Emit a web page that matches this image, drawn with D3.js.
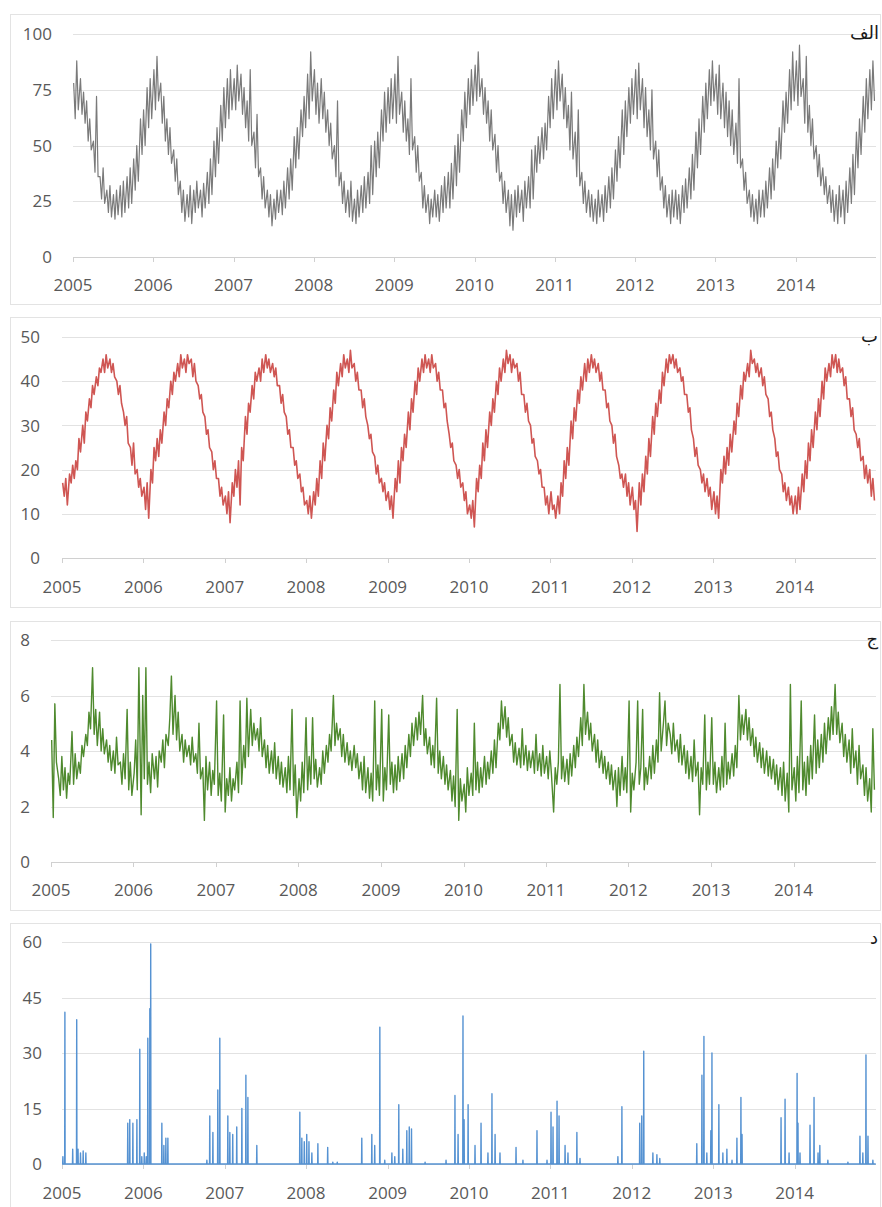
<!DOCTYPE html>
<html><head><meta charset="utf-8">
<script src="https://cdn.jsdelivr.net/npm/d3@7"></script>
<style>body{margin:0;background:#fff}svg{display:block}</style>
</head><body>
<svg id="chart" width="882" height="1207"></svg>
<script>
// ---------- DATA ----------
const yearTicks = [2005,2006,2007,2008,2009,2010,2011,2012,2013,2014];
const humidityTicks = [0,25,50,75,100];
const temperatureTicks = [0,10,20,30,40,50];
const windTicks = [0,2,4,6,8];
const rainTicks = [0,15,30,45,60];
const panelTitles = ["الف","ب","ج","د"];

// weekly samples (4 per month: days 4, 11, 18, 25), one row per year
const humidity = [
78,62,88,66, 80,64,74,60, 70,52,62,48, 52,38,72,36, 36,26,40,24, 30,20,32,18, 28,17,30,19, 32,18,34,20, 36,22,40,24, 44,30,50,34, 62,46,66,50, 76,58,80,62,
84,66,90,70, 78,60,72,52, 62,46,58,42, 48,34,44,28, 34,20,30,16, 28,18,32,15, 30,20,34,22, 30,18,33,22, 38,24,44,28, 52,36,58,42, 68,52,76,58, 80,62,84,66,
80,66,86,70, 82,64,76,58, 70,52,84,50, 56,40,64,36, 40,26,36,22, 30,18,28,14, 26,17,30,20, 30,19,34,22, 40,26,44,30, 54,40,58,44, 66,54,72,58, 82,62,92,70,
84,64,78,60, 80,62,74,56, 66,50,60,44, 50,36,70,32, 38,24,34,20, 30,18,34,16, 26,15,30,18, 32,20,36,22, 38,24,50,28, 52,36,56,40, 66,52,74,56, 76,60,80,62,
82,60,90,64, 74,56,70,52, 62,46,80,48, 54,38,50,34, 38,22,32,20, 28,15,26,18, 30,18,28,16, 32,20,36,22, 38,22,42,26, 50,32,55,38, 66,52,74,58, 80,64,84,68,
86,70,92,72, 80,64,76,60, 70,52,66,48, 55,38,50,34, 38,24,34,20, 30,14,28,12, 30,18,32,20, 30,16,34,22, 36,22,48,26, 50,38,54,42, 58,44,60,48, 72,58,80,62,
84,66,88,70, 82,62,76,58, 68,48,74,44, 56,36,66,32, 38,24,34,20, 30,18,28,16, 26,15,30,18, 28,16,32,20, 36,22,40,26, 48,34,54,40, 66,46,70,54, 76,60,80,64,
84,62,87,66, 80,58,76,54, 66,48,75,44, 52,36,48,30, 36,22,32,18, 28,15,30,18, 30,17,28,15, 32,20,35,22, 40,26,46,30, 56,40,62,46, 72,56,78,62, 84,68,88,70,
82,64,86,62, 78,58,74,54, 70,50,66,46, 60,42,80,40, 44,30,38,24, 30,18,28,16, 26,15,30,18, 30,18,34,22, 40,26,44,30, 52,40,58,44, 70,56,74,60, 84,66,92,70,
88,68,95,72, 80,60,90,56, 68,50,62,44, 50,36,46,32, 40,28,36,24, 32,20,30,16, 28,15,32,18, 30,15,34,20, 40,24,46,28, 56,40,62,46, 72,56,80,62, 84,66,88,70
];

const temperature = [
17,14,18,12, 19,17,21,18, 22,20,27,24, 30,26,33,31, 36,34,39,37, 41,39,43,42, 45,42,46,43, 45,42,44,41, 40,37,39,35, 33,30,32,26, 25,21,26,19, 20,16,18,14,
16,11,17,9, 20,17,25,22, 27,23,29,26, 33,30,36,34, 40,37,42,40, 44,41,46,43, 45,42,46,44, 45,41,44,40, 39,36,37,33, 32,28,29,25, 24,20,22,18, 18,14,16,12,
14,10,15,8, 17,14,20,16, 22,12,25,22, 32,28,35,33, 39,36,42,40, 43,40,45,42, 46,43,45,42, 44,41,43,39, 39,35,37,33, 32,28,29,25, 25,21,22,18, 19,15,16,12,
13,10,14,9, 15,12,18,14, 22,18,26,22, 30,27,34,31, 38,35,42,39, 44,41,46,43, 45,42,47,43, 44,40,42,38, 38,34,36,32, 30,27,28,24, 23,19,21,17, 18,15,17,13,
15,11,14,9, 18,15,22,17, 25,22,28,25, 33,29,36,33, 40,37,43,40, 45,42,46,43, 45,42,46,43, 44,40,42,38, 38,34,35,31, 28,25,26,22, 21,18,20,16, 17,13,15,10,
12,9,13,7, 18,15,21,18, 26,22,29,25, 33,30,36,33, 40,37,43,40, 45,42,47,44, 46,42,45,43, 44,40,42,37, 37,33,35,31, 30,26,27,23, 22,19,20,16, 16,12,14,10,
15,11,12,9, 14,10,17,14, 22,18,25,21, 31,27,34,31, 38,35,41,38, 44,40,45,42, 46,43,45,42, 44,40,42,38, 38,34,35,31, 30,26,28,23, 21,18,19,16, 19,14,17,12,
16,11,13,6, 17,12,19,15, 23,19,27,23, 32,28,35,32, 38,35,42,39, 45,42,46,44, 46,43,45,42, 43,40,41,37, 37,33,34,29, 27,23,25,21, 20,17,19,15, 18,14,16,11,
15,10,14,9, 20,17,23,19, 25,21,28,24, 31,28,35,32, 39,36,42,40, 44,41,47,44, 45,42,44,41, 43,39,41,37, 36,32,33,29, 27,23,24,20, 19,15,17,13, 16,12,14,10,
14,10,16,11, 19,15,22,18, 26,22,29,25, 33,29,36,32, 40,36,43,40, 44,41,46,43, 46,42,45,42, 43,39,41,36, 36,32,34,29, 28,25,27,22, 23,18,21,17, 20,14,18,13
];

const wind = [
4.4,1.6,5.7,3.6, 3.0,2.4,3.8,2.6, 3.4,2.3,3.2,2.8, 4.7,2.8,3.9,3.0, 3.6,3.2,4.2,3.8, 4.6,4.2,5.4,4.8, 7.0,4.6,5.5,4.2, 5.4,4.0,4.8,3.9, 4.4,3.6,4.2,3.3, 4.0,3.2,4.5,3.5, 3.6,2.8,3.9,3.0, 5.5,2.6,3.6,2.4,
3.2,4.4,2.6,7.0, 1.7,6.0,3.0,7.0, 2.8,3.6,2.5,3.9, 3.0,3.8,2.7,4.0, 3.6,4.4,3.4,4.6, 4.2,5.2,6.7,4.6, 6.0,4.4,5.4,4.0, 4.6,3.6,4.4,3.8, 4.2,3.5,4.5,3.6, 3.9,3.2,5.0,3.0, 3.4,1.5,3.8,2.6, 3.6,2.4,3.3,2.8,
5.8,2.4,3.2,2.2, 5.3,1.8,3.0,2.4, 3.4,2.2,3.0,2.6, 3.6,2.5,5.8,2.8, 4.2,3.4,5.9,3.8, 5.5,4.2,5.0,4.4, 4.8,4.0,5.2,3.8, 4.4,3.4,4.2,3.2, 4.0,3.2,4.3,3.0, 3.8,2.8,3.6,2.7, 3.4,2.5,3.8,2.6, 5.5,2.4,3.5,1.6,
3.0,2.2,3.6,2.5, 5.2,2.6,3.8,2.8, 5.2,3.0,3.7,2.7, 3.4,2.8,4.0,3.2, 4.2,3.6,4.6,4.0, 6.0,4.2,5.0,4.4, 4.8,3.8,4.6,3.6, 4.3,3.5,4.0,3.3, 4.2,3.4,3.9,3.0, 3.6,2.6,3.8,2.5, 3.4,2.3,3.2,2.2, 5.8,2.6,3.5,2.4,
5.5,2.2,3.4,2.6, 5.3,2.8,3.6,2.5, 3.5,2.6,3.8,2.9, 3.9,3.0,4.2,3.4, 4.6,3.8,5.0,4.2, 5.2,4.4,5.4,4.6, 6.0,4.2,4.8,3.9, 4.5,3.5,4.2,3.4, 5.9,3.2,4.0,3.0, 3.8,2.8,3.5,2.6, 3.3,2.2,3.1,2.0, 5.5,1.5,3.0,2.2,
2.8,1.8,3.4,2.4, 3.2,2.4,5.0,2.6, 3.6,2.5,3.4,2.7, 3.8,2.8,3.6,3.0, 4.0,3.2,4.4,3.4, 5.0,4.4,5.8,4.8, 5.6,4.5,5.2,4.2, 4.6,3.6,4.3,3.5, 4.1,3.4,4.8,3.5, 4.2,3.3,4.0,3.4, 4.0,3.2,4.6,3.3, 3.9,3.1,4.2,3.2,
3.8,3.0,4.0,3.2, 1.8,3.4,2.8,3.6, 6.4,3.0,3.8,2.9, 3.7,2.8,3.9,3.1, 4.2,3.4,4.5,3.8, 5.2,4.2,6.4,4.6, 5.4,4.4,5.0,4.0, 4.6,3.6,4.4,3.4, 4.0,3.2,3.8,3.0, 3.6,2.8,3.5,2.6, 3.3,2.0,3.4,2.4, 3.8,2.6,3.4,2.5,
5.8,1.8,3.2,2.6, 3.6,5.8,2.8,3.4, 5.5,2.6,3.4,2.8, 3.8,3.0,4.2,3.2, 4.4,3.6,6.1,4.0, 5.0,5.8,4.2,5.0, 4.6,3.9,5.0,4.0, 4.4,3.6,4.6,3.5, 4.2,3.2,4.0,3.0, 3.8,2.9,4.4,3.1, 3.6,1.7,3.4,2.8, 5.3,2.6,3.6,2.8,
5.2,2.8,3.6,2.5, 3.4,2.6,3.8,2.7, 5.0,2.8,3.6,3.0, 3.9,3.1,4.2,3.4, 6.0,4.4,5.3,4.6, 5.5,4.4,5.2,4.2, 4.8,3.8,4.5,3.6, 4.3,3.4,4.1,3.2, 4.0,3.1,3.8,3.0, 3.7,2.8,3.5,2.6, 3.4,2.4,3.6,2.2, 3.2,1.8,6.4,2.6,
3.4,2.2,3.8,2.5, 5.8,2.6,3.6,2.4, 3.8,2.8,4.2,3.0, 5.3,3.2,4.4,3.4, 4.6,3.6,5.0,3.9, 5.2,4.4,5.6,4.6, 6.4,4.6,5.4,4.3, 5.0,3.8,4.6,3.6, 4.4,3.2,4.8,3.4, 4.0,2.8,4.2,3.0, 3.5,2.4,3.4,2.2, 3.0,1.8,4.8,2.6
];

// rainy days (all other days are 0)
const rainEvents = [
["2005-01-05",2],["2005-01-14",41],["2005-02-18",4],["2005-03-08",39],["2005-03-14",4],["2005-03-25",3],["2005-04-06",3.5],["2005-04-18",3],
["2005-10-23",11],["2005-11-01",12],["2005-11-15",11],["2005-12-03",12],["2005-12-16",31],["2005-12-25",2],["2006-01-05",3],["2006-01-14",2],
["2006-01-21",34],["2006-01-30",42],["2006-02-03",59.5],["2006-03-25",11],["2006-04-03",5],["2006-04-12",7],["2006-04-21",7],
["2006-10-13",1],["2006-10-26",13],["2006-11-09",8.5],["2006-12-01",20],["2006-12-10",34],["2007-01-15",13],["2007-01-24",8.5],["2007-02-06",8],
["2007-02-24",10],["2007-03-19",15],["2007-04-06",24],["2007-04-15",18],["2007-05-25",5],
["2007-12-04",14],["2007-12-13",7],["2007-12-24",6],["2008-01-04",8],["2008-01-14",6],["2008-01-27",3],["2008-02-23",5.5],["2008-04-07",4.5],
["2008-04-30",0.5],["2008-05-20",0.5],["2008-09-07",7],["2008-10-22",8],["2008-11-04",5],["2008-11-27",37],["2008-12-19",1],
["2009-01-20",3],["2009-02-02",2],["2009-02-20",16],["2009-03-10",4],["2009-03-28",9],["2009-04-08",10],["2009-04-18",9.5],["2009-06-18",0.5],
["2009-09-20",1],["2009-10-30",18.5],["2009-11-13",8],["2009-12-05",40],["2009-12-10",12],["2009-12-28",16],["2010-01-28",5],["2010-02-24",11],
["2010-03-27",3],["2010-04-14",19],["2010-04-28",8],["2010-05-20",3],["2010-07-31",4.5],["2010-08-31",1],["2010-11-02",9],["2010-12-17",1],
["2011-01-04",14],["2011-01-13",10],["2011-01-31",17],["2011-02-09",13],["2011-03-08",5],["2011-03-21",3],["2011-04-30",8.5],["2011-05-14",1.5],
["2011-10-31",2],["2011-11-18",15.5],["2012-02-06",11],["2012-02-15",13],["2012-02-24",30.5],["2012-04-05",3],["2012-04-23",2.5],["2012-05-06",1.5],
["2012-10-19",5.5],["2012-11-11",24],["2012-11-20",34.5],["2012-12-03",3],["2012-12-21",9],["2012-12-26",30],["2013-01-26",16],["2013-02-13",3],
["2013-03-03",4],["2013-03-26",1],["2013-04-17",7],["2013-05-05",18],["2013-05-10",8],
["2013-11-01",12.5],["2013-11-19",17.5],["2013-12-07",3],["2014-01-12",24.5],["2014-01-16",11],["2014-01-25",3],["2014-03-11",10.5],["2014-03-29",18],
["2014-04-16",3],["2014-04-24",5],["2014-05-30",1],["2014-08-28",0.5],["2014-10-21",7.5],["2014-11-03",3],["2014-11-17",29.5],["2014-11-26",7.5],["2014-12-18",1]
];

// ---------- BUILD ----------
const weekly = arr => arr.map((v,i)=>({date:new Date(2005+Math.floor(i/48), Math.floor(i/4)%12, 4+7*(i%4)), v}));
const parse = d3.timeParse("%Y-%m-%d");
const rainMap = new Map(rainEvents.map(([d,v])=>[+parse(d), v]));
const rainDaily = d3.timeDay.range(new Date(2005,0,1), new Date(2015,0,1)).map(d=>({date:d, v: rainMap.get(+d) || 0}));

const panels = [
  {data:weekly(humidity), ticks:humidityTicks, max:100, color:"#7a7a7a", width:1.2,
   top:14, bottom:304, x0:73, y0:257, y1:34, labelX:52, xLabelY:285, titleEnd:879, titleY:33},
  {data:weekly(temperature), ticks:temperatureTicks, max:50, color:"#cf5653", width:1.6,
   top:317, bottom:607, x0:62, y0:558, y1:337, labelX:40, xLabelY:587, titleEnd:878, titleY:336},
  {data:weekly(wind), ticks:windTicks, max:8, color:"#4f8a2e", width:1.4,
   top:621, bottom:910, x0:51, y0:862, y1:640, labelX:30, xLabelY:890, titleEnd:878, titleY:639},
  {data:rainDaily, ticks:rainTicks, max:60, color:"#5592d2", width:1.4,
   top:923, bottom:1216, x0:62, y0:1164, y1:942, labelX:42, xLabelY:1193, titleEnd:878, titleY:938}
];

const svg = d3.select("#chart");
const X1 = 876;
const font = "'Open Sans', 'Liberation Sans', sans-serif";

panels.forEach((p,i)=>{
  const g = svg.append("g");
  g.append("rect").attr("x",10.5).attr("y",p.top+0.5).attr("width",870).attr("height",p.bottom-p.top)
    .attr("fill","#fff").attr("stroke","#e3e3e3");
  const x = d3.scaleTime().domain([new Date(2005,0,1), new Date(2015,0,1)]).range([p.x0, X1]);
  const y = d3.scaleLinear().domain([0,p.max]).range([p.y0, p.y1]);

  g.selectAll(".grid").data(p.ticks).join("line")
    .attr("x1",p.x0).attr("x2",X1)
    .attr("y1",d=>Math.round(y(d))+0.5).attr("y2",d=>Math.round(y(d))+0.5)
    .attr("stroke",d=>d===0?"#d0d0d0":"#e2e2e2").attr("stroke-width",1);
  g.selectAll(".yl").data(p.ticks).join("text")
    .attr("x",p.labelX).attr("y",d=>y(d)).attr("dy","0.36em").attr("text-anchor","end")
    .attr("font-family",font).attr("font-size",17).attr("fill","#595959").text(d=>d);
  const yrs = yearTicks.map(yr=>new Date(yr,0,1));
  g.selectAll(".xt").data(yrs).join("line")
    .attr("x1",d=>Math.round(x(d))+0.5).attr("x2",d=>Math.round(x(d))+0.5)
    .attr("y1",p.y0).attr("y2",p.y0+5).attr("stroke","#d0d0d0");
  g.selectAll(".xl").data(yrs).join("text")
    .attr("x",d=>x(d)).attr("y",p.xLabelY).attr("dy","0.36em").attr("text-anchor","middle")
    .attr("font-family",font).attr("font-size",17).attr("fill","#595959")
    .text(d=>d3.timeFormat("%Y")(d));
  const line = d3.line().x(d=>x(d.date)).y(d=>y(d.v));
  g.append("path").datum(p.data).attr("d",line).attr("fill","none")
    .attr("stroke",p.color).attr("stroke-width",p.width).attr("stroke-linejoin","round");
  g.append("text").attr("x",p.titleEnd).attr("y",p.titleY).attr("dy","0.36em").attr("text-anchor","end")
    .attr("font-family","'DejaVu Sans', 'Noto Sans', sans-serif").attr("font-size",18).attr("fill","#1a1a1a")
    .text(panelTitles[i]);
});
</script>
</body></html>
